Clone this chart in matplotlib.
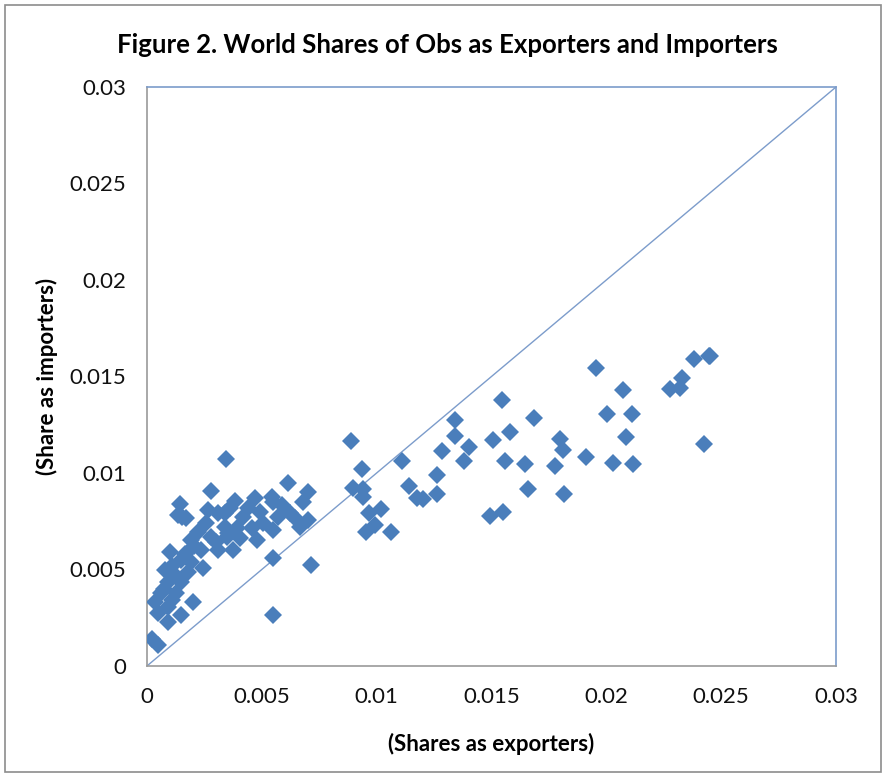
import matplotlib
matplotlib.use("Agg")
import matplotlib.pyplot as plt
from matplotlib.patches import Rectangle

# world shares: exporters (x) vs importers (y)
export_share = [
    0.02447, 0.02074, 0.02002, 0.02110, 0.02086, 0.01911, 0.02030, 0.02117,
    0.02383, 0.02451, 0.02328, 0.02277, 0.02321, 0.02427, 0.01954,
    0.01544, 0.01685, 0.01581, 0.01505, 0.01798, 0.01813, 0.01560, 0.01645,
    0.01776, 0.01660, 0.01817, 0.01493, 0.01552, 0.01341, 0.01341, 0.01403,
    0.01382, 0.01283, 0.01264, 0.01264, 0.01174, 0.01203, 0.01142, 0.01110,
    0.00888, 0.00934, 0.00898, 0.00942, 0.00942, 0.00968, 0.01019, 0.00993,
    0.00954, 0.01062,
    0.00344, 0.00279, 0.00144, 0.00151, 0.00615, 0.00702, 0.00681, 0.00383,
    0.00470, 0.00543, 0.00550, 0.00712, 0.00550, 0.00199, 0.00020, 0.00049,
    0.00135, 0.00171, 0.00266, 0.00309, 0.00360, 0.00338, 0.00258, 0.00222,
    0.00280, 0.00353, 0.00374, 0.00309, 0.00193, 0.00236, 0.00099, 0.00149,
    0.00244, 0.00179, 0.00077, 0.00091, 0.00149, 0.00128, 0.00062, 0.00034,
    0.00091, 0.00048, 0.00091, 0.00149,
    0.00586, 0.00550, 0.00441, 0.00340, 0.00419, 0.00492, 0.00572, 0.00623,
    0.00644, 0.00702, 0.00666, 0.00506, 0.00550, 0.00456, 0.00391, 0.00347,
    0.00405, 0.00478,
    0.00110, 0.00120, 0.00165, 0.00205, 0.00075, 0.00110, 0.00190, 0.00300,
]
import_share = [
    0.01606, 0.01430, 0.01306, 0.01306, 0.01185, 0.01081, 0.01053, 0.01047,
    0.01589, 0.01606, 0.01491, 0.01434, 0.01439, 0.01149, 0.01546,
    0.01378, 0.01287, 0.01214, 0.01171, 0.01175, 0.01119, 0.01064, 0.01047,
    0.01038, 0.00917, 0.00891, 0.00779, 0.00800, 0.01275, 0.01193, 0.01133,
    0.01062, 0.01116, 0.00990, 0.00890, 0.00869, 0.00864, 0.00934, 0.01064,
    0.01166, 0.01019, 0.00921, 0.00917, 0.00877, 0.00794, 0.00812, 0.00731,
    0.00696, 0.00693,
    0.01071, 0.00907, 0.00839, 0.00770, 0.00946, 0.00903, 0.00851, 0.00855,
    0.00869, 0.00877, 0.00558, 0.00523, 0.00264, 0.00333, 0.00138, 0.00109,
    0.00782, 0.00765, 0.00808, 0.00791, 0.00817, 0.00722, 0.00739, 0.00696,
    0.00670, 0.00688, 0.00601, 0.00601, 0.00653, 0.00601, 0.00592, 0.00549,
    0.00506, 0.00489, 0.00497, 0.00437, 0.00437, 0.00377, 0.00377, 0.00333,
    0.00307, 0.00273, 0.00230, 0.00264,
    0.00834, 0.00851, 0.00817, 0.00791, 0.00774, 0.00799, 0.00774, 0.00791,
    0.00765, 0.00756, 0.00722, 0.00739, 0.00705, 0.00713, 0.00713, 0.00670,
    0.00662, 0.00653,
    0.00520, 0.00470, 0.00580, 0.00620, 0.00400, 0.00340, 0.00540, 0.00640,
]
ticks = [0, 0.005, 0.01, 0.015, 0.02, 0.025, 0.03]
tick_labels = ["0", "0.005", "0.01", "0.015", "0.02", "0.025", "0.03"]

plt.rcParams['font.family'] = ['Lato', 'DejaVu Sans']

fig = plt.figure(figsize=(8.86, 7.76), dpi=100)
ax = fig.add_axes([0.1659, 0.1418, 0.7777, 0.7461])

# 45-degree reference line
ax.plot([0, 0.03], [0, 0.03], color='#7c9ccb', linewidth=1.0, zorder=2)
ax.plot(export_share, import_share, linestyle='none', marker='D', markersize=9.5,
        color='#4a7ebb', markeredgewidth=0, zorder=3)

ax.set_xlim(0, 0.03)
ax.set_ylim(0, 0.03)
ax.set_xticks(ticks)
ax.set_xticklabels(tick_labels)
ax.set_yticks(ticks)
ax.set_yticklabels(tick_labels)
ax.tick_params(length=0, labelsize=16, colors='#111111')
ax.tick_params(axis='x', pad=15)
ax.tick_params(axis='y', pad=15)

for side in ['top', 'right']:
    ax.spines[side].set_color('#7c9ccb')
for side in ['left', 'bottom']:
    ax.spines[side].set_color('#9a9a9a')
for sp in ax.spines.values():
    sp.set_linewidth(1.2)

ax.set_xlabel("(Shares as exporters)", fontsize=16, fontweight='bold', labelpad=19)
ax.set_ylabel("(Share as importers)", fontsize=16, fontweight='bold', labelpad=8)
fig.text(0.505, 0.942, "Figure 2. World Shares of Obs as Exporters and Importers",
         ha='center', va='center', fontsize=18.5, fontweight='bold')

# chart-area frame
fig.patches.append(Rectangle((0.006, 0.005), 0.988, 0.988, transform=fig.transFigure,
                             fill=False, edgecolor='#8c8c8c', linewidth=1.2))

fig.savefig("out.png", dpi=100)
